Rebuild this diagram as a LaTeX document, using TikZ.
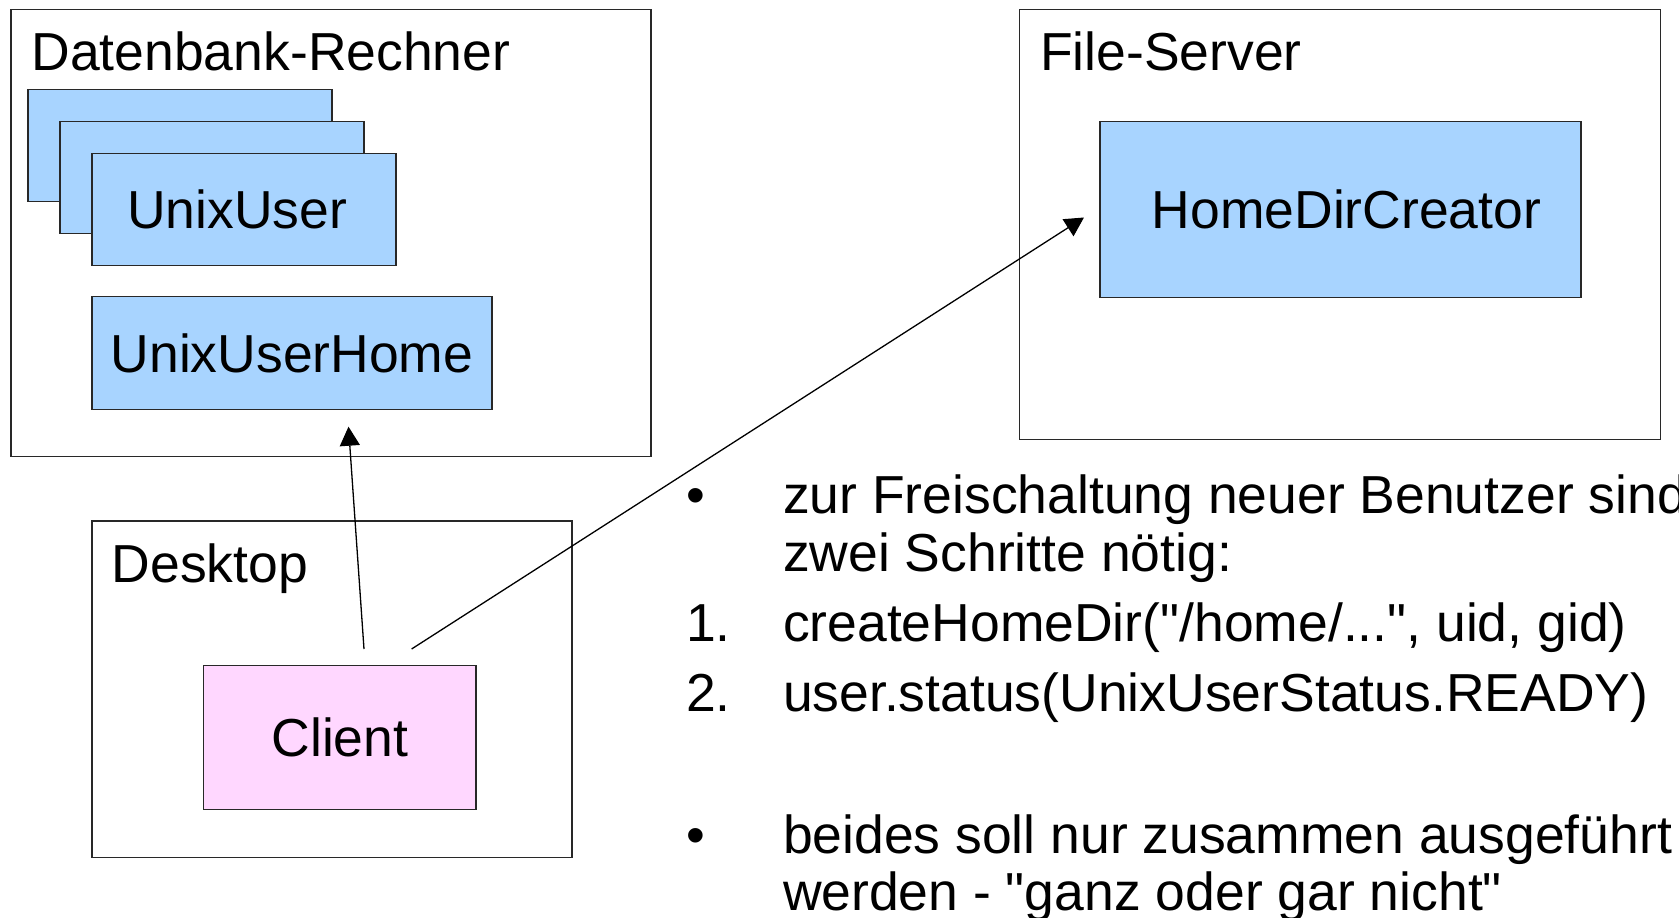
\documentclass[tikz,border=0pt]{standalone}
\usepackage{fontspec}
\setmainfont{Liberation Sans}[Ligatures=TeXOff]
\usetikzlibrary{arrows.meta}
\definecolor{boxblue}{RGB}{168,212,255}
\definecolor{boxpink}{RGB}{255,215,255}
\definecolor{edgecol}{RGB}{40,40,40}
\begin{document}
\begin{tikzpicture}[x=1pt,y=-1pt,
  every node/.style={font=\fontsize{53.5}{60}\selectfont, inner sep=0pt, outer sep=0pt},
  container/.style={draw=edgecol, line width=1.4pt},
  classbox/.style={draw=edgecol, line width=1.4pt, fill=boxblue},
  clientbox/.style={draw=edgecol, line width=1.4pt, fill=boxpink},
  title/.style={anchor=base west},
  txt/.style={anchor=base west},
  arr/.style={draw=black, line width=1.3pt, -{Triangle[length=19pt,width=20pt]}}]
\fill[white] (0,0) rectangle (1679,918);
\useasboundingbox (0,0) rectangle (1679,918);

% containers
\node[container, minimum width=640pt, minimum height=447pt] (db) at (331,233) {};
\node[container, minimum width=641pt, minimum height=430pt] (fs) at (1340,224.3) {};
\node[container, minimum width=480pt, minimum height=336.3pt] (desk) at (332,689.2) {};

% titles
\node[title] (dbtitle) at (31.5,70) {Datenbank-Rechner};
\node[title] (fstitle) at (1040,70) {File-Server};
\node[title] (desktitle) at (111.8,582.7) {Desktop};

% UnixUser stack
\node[classbox, minimum width=304pt, minimum height=112pt] (u1) at (180,145.2) {};
\node[classbox, minimum width=304pt, minimum height=112pt] (u2) at (212,177.2) {};
\node[classbox, minimum width=304pt, minimum height=112pt] (u3) at (244,209.3) {UnixUser\hspace*{14pt}};

\node[classbox, minimum width=400pt, minimum height=112.6pt] (home) at (292,353) {UnixUserHome};
\node[classbox, minimum width=481pt, minimum height=176pt] (hdc) at (1340.5,209.3) {\hspace*{12pt}HomeDirCreator};
\node[clientbox, minimum width=272.3pt, minimum height=144pt] (client) at (339.9,737.3) {Client};

% connectors
\coordinate (a1s) at (364,649);
\coordinate (a1e) at (348.5,426.7);
\coordinate (a2s) at (411.6,649);
\coordinate (a2e) at (1084,217.5);
\draw[arr] (a1s) -- (a1e);
\draw[arr] (a2s) -- (a2e);

% right text
\node[txt] (b1) at (686,513.3) {•};
\node[txt] (t1) at (783,513.3) {zur Freischaltung neuer Benutzer sind};
\node[txt] (t2) at (783,571) {zwei Schritte nötig:};
\node[txt] (n1) at (686,641.7) {1.};
\node[txt] (t3) at (783,641.7) {createHomeDir("/home/...", uid, gid)};
\node[txt] (n2) at (686,711) {2.};
\node[txt] (t4) at (783,711) {user.status(UnixUserStatus.READY)};
\node[txt] (b2) at (686,853) {•};
\node[txt] (t5) at (783,853) {beides soll nur zusammen ausgeführt};
\node[txt] (t6) at (783,910) {werden - "ganz oder gar nicht"};
\end{tikzpicture}
\end{document}
